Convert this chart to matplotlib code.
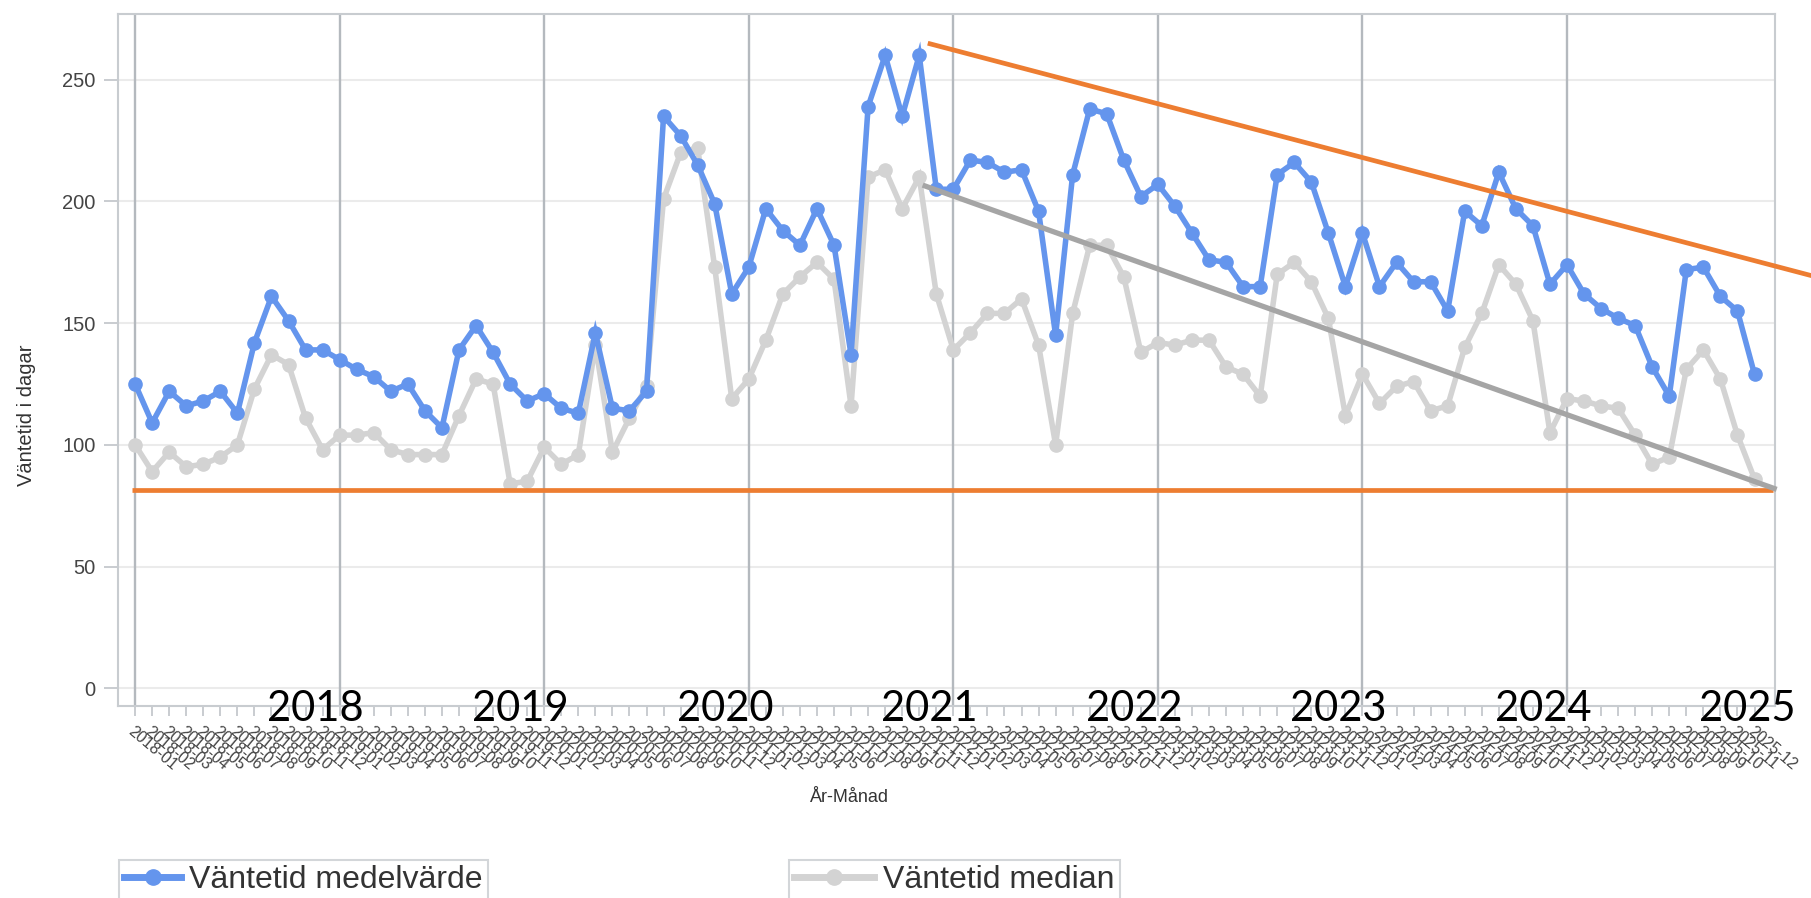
import matplotlib
matplotlib.use("Agg")
import matplotlib.pyplot as plt
from matplotlib.lines import Line2D

# ---------------- data ----------------
years = [2018, 2019, 2020, 2021, 2022, 2023, 2024, 2025]
months = [f"{y}-{m:02d}" for y in years for m in range(1, 13)]

mean_vals = [
    125, 109, 122, 116, 118, 122, 113, 142, 161, 151, 139, 139,   # 2018
    135, 131, 128, 122, 125, 114, 107, 139, 149, 138, 125, 118,   # 2019
    121, 115, 113, 146, 115, 114, 122, 235, 227, 215, 199, 162,   # 2020
    173, 197, 188, 182, 197, 182, 137, 239, 260, 235, 260, 205,   # 2021
    205, 217, 216, 212, 213, 196, 145, 211, 238, 236, 217, 202,   # 2022
    207, 198, 187, 176, 175, 165, 165, 211, 216, 208, 187, 165,   # 2023
    187, 165, 175, 167, 167, 155, 196, 190, 212, 197, 190, 166,   # 2024
    174, 162, 156, 152, 149, 132, 120, 172, 173, 161, 155, 129,   # 2025
]
median_vals = [
    100, 89, 97, 91, 92, 95, 100, 123, 137, 133, 111, 98,
    104, 104, 105, 98, 96, 96, 96, 112, 127, 125, 84, 85,
    99, 92, 96, 141, 97, 111, 124, 201, 220, 222, 173, 119,
    127, 143, 162, 169, 175, 168, 116, 210, 213, 197, 210, 162,
    139, 146, 154, 154, 160, 141, 100, 154, 182, 182, 169, 138,
    142, 141, 143, 143, 132, 129, 120, 170, 175, 167, 152, 112,
    129, 117, 124, 126, 114, 116, 140, 154, 174, 166, 151, 105,
    119, 118, 116, 115, 104, 92, 95, 131, 139, 127, 104, 86,
]
year_labels = ["2018", "2019", "2020", "2021", "2022", "2023", "2024", "2025"]
yticks = [0, 50, 100, 150, 200, 250]

# hand-drawn annotation lines (month index, days)
upper_trend_x = [46.5, 98.4]
upper_trend_y = [265.0, 169.4]
lower_trend_x = [46.2, 96.3]
lower_trend_y = [206.7, 81.7]
floor_x = [-0.2, 96.1]
floor_y = [81.5, 81.5]

# ---------------- figure ----------------
fig = plt.figure(figsize=(18.11, 8.98), dpi=100)
ax = fig.add_axes([0.0652, 0.2138, 0.9149, 0.7706])

xs = list(range(len(months)))
BLUE = "#6495ED"
LGRAY = "#D3D3D3"
ORANGE = "#ED7D31"
DGRAY = "#A5A5A5"

l_med, = ax.plot(xs, median_vals, color=LGRAY, lw=4.0, marker="o", ms=9.5,
                 solid_joinstyle="miter", zorder=3)
l_mean, = ax.plot(xs, mean_vals, color=BLUE, lw=4.0, marker="o", ms=9.5,
                  solid_joinstyle="miter", zorder=4)

ax.plot(upper_trend_x, upper_trend_y, color=ORANGE, lw=3.4, zorder=6,
        clip_on=False, solid_capstyle="butt")
ax.plot(floor_x, floor_y, color=ORANGE, lw=3.4, zorder=6, clip_on=False,
        solid_capstyle="butt")
ax.plot(lower_trend_x, lower_trend_y, color=DGRAY, lw=3.8, zorder=7,
        clip_on=False, solid_capstyle="butt")

ax.set_xlim(-1.0, 96.2)
ax.set_ylim(-7.3, 277)

# grid
ax.set_yticks(yticks)
ax.yaxis.grid(True, color="#EBEBEB", lw=1.5, zorder=0)
for i, m in enumerate(months):
    if m.endswith("-01"):
        ax.axvline(i, color="#B4B9BE", lw=1.7, zorder=1)
ax.set_axisbelow(True)

for s in ax.spines.values():
    s.set_color("#C8CCD0")
    s.set_linewidth(1.5)

ax.set_xticks(xs)
ax.set_xticklabels(months, rotation=-40, ha="left", va="top",
                   rotation_mode="anchor", fontsize=11.5, color="#444444",
                   family="Liberation Sans")
ax.tick_params(axis="x", length=7, width=1.2, color="#C0C4C8", pad=6)
ax.tick_params(axis="y", length=10, width=1.2, color="#C0C4C8", pad=6,
               labelsize=14.5, labelcolor="#444444")
for t in ax.get_yticklabels():
    t.set_family("Liberation Sans")

# year annotations
for k, lab in enumerate(year_labels):
    ax.text(12 * (k + 1) - 1.4, -13.5, lab, fontsize=30, family="Lato",
            color="black", ha="center", va="baseline", zorder=10, clip_on=False)

# axis titles
fig.text(0.0144, 0.538, "Väntetid i dagar", rotation=90, ha="center",
         va="center", fontsize=14.5, color="#333333", family="Liberation Sans")
fig.text(0.469, 1 - 797 / 898, "År-Månad", ha="center", va="center",
         fontsize=13, color="#333333", family="Liberation Sans")

# legends
h1 = Line2D([], [], color=BLUE, lw=5, marker="o", ms=11)
h2 = Line2D([], [], color=LGRAY, lw=5, marker="o", ms=11)
leg1 = fig.legend([h1], ["Väntetid medelvärde"], loc="upper left",
                  bbox_to_anchor=(119 / 1811, 1 - 860 / 898), borderaxespad=0,
                  prop={"family": "Liberation Sans", "size": 23},
                  handlelength=1.8, handletextpad=0.25, borderpad=0.15,
                  fancybox=False, edgecolor="#C8CCD0", numpoints=1,
                  labelcolor="#333333")
leg1.get_frame().set_linewidth(1.5)
leg2 = fig.legend([h2], ["Väntetid median"], loc="upper left",
                  bbox_to_anchor=(789 / 1811, 1 - 860 / 898), borderaxespad=0,
                  prop={"family": "Liberation Sans", "size": 23},
                  handlelength=2.5, handletextpad=0.3, borderpad=0.15,
                  fancybox=False, edgecolor="#C8CCD0", numpoints=1,
                  labelcolor="#333333")
leg2.get_frame().set_linewidth(1.5)

fig.savefig("out.png", dpi=100)
